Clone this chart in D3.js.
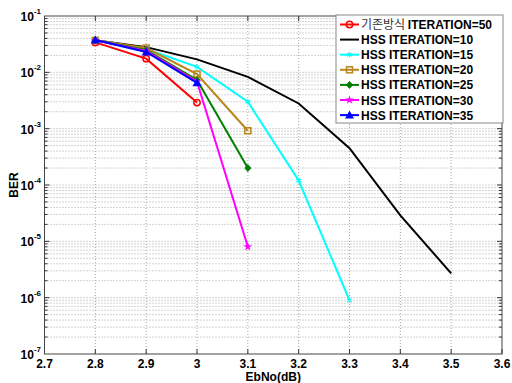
<!DOCTYPE html>
<html><head><meta charset="utf-8">
<script src="https://cdn.jsdelivr.net/npm/d3@7"></script>
<style>body{margin:0;background:#fff}svg{display:block}</style>
</head><body>
<script>
const ebno = [2.8, 2.9, 3.0, 3.1, 3.2, 3.3, 3.4, 3.5];
const berBase50 = [0.034, 0.0175, 0.0029];
const berHss10 = [0.037, 0.028, 0.017, 0.0083, 0.0028, 0.00045, 2.9e-5, 2.7e-6];
const berHss15 = [0.037, 0.026, 0.0125, 0.003, 1.2e-4, 9e-7];
const berHss20 = [0.037, 0.027, 0.0093, 0.00092];
const berHss25 = [0.037, 0.025, 0.0073, 0.0002];
const berHss30 = [0.037, 0.024, 0.0068, 8e-6];
const berHss35 = [0.0375, 0.023, 0.0065];
const xTicks = [2.7, 2.8, 2.9, 3.0, 3.1, 3.2, 3.3, 3.4, 3.5, 3.6];
const xTickLabels = ["2.7","2.8","2.9","3","3.1","3.2","3.3","3.4","3.5","3.6"];
const yExponents = [-1, -2, -3, -4, -5, -6, -7];
const seriesNames = ["기존방식 ITERATION=50","HSS ITERATION=10","HSS ITERATION=15","HSS ITERATION=20","HSS ITERATION=25","HSS ITERATION=30","HSS ITERATION=35"];
const seriesValues = [berBase50, berHss10, berHss15, berHss20, berHss25, berHss30, berHss35];
const seriesColors = ["#ff0000","#000000","#00ffff","#b8861b","#008000","#ff00ff","#0000ff"];
const seriesMarkers = ["circle","none","star","square","diamond","pent","triangle"];

const W = 512, H = 383;
const L = 44.5, R = 502, T = 16, B = 354;
const svg = d3.select("body").append("svg").attr("width", W).attr("height", H)
  .style("font-family", "'Liberation Sans', Arial, sans-serif");
const x = d3.scaleLinear().domain([2.7, 3.6]).range([L, R]);
const y = d3.scaleLog().domain([1e-7, 1e-1]).range([B, T]);

// grid
const g = svg.append("g");
xTicks.slice(1, -1).forEach(v => g.append("line").attr("x1", x(v)).attr("x2", x(v)).attr("y1", T).attr("y2", B)
  .attr("stroke", "#a8a8a8").attr("stroke-width", 1).attr("stroke-dasharray", "1,2"));
for (let e = -7; e < -1; e++) {
  for (let m = 1; m <= 9; m++) {
    const v = m * Math.pow(10, e);
    if (m === 1 && e === -7) continue;
    g.append("line").attr("x1", L).attr("x2", R).attr("y1", y(v)).attr("y2", y(v))
      .attr("stroke", "#a8a8a8").attr("stroke-width", 1).attr("stroke-dasharray", "1,2");
    const len = m === 1 ? 5 : 3;
    g.append("line").attr("x1", L).attr("x2", L + len).attr("y1", y(v)).attr("y2", y(v)).attr("stroke", "#333");
    g.append("line").attr("x1", R).attr("x2", R - len).attr("y1", y(v)).attr("y2", y(v)).attr("stroke", "#333");
  }
}
xTicks.forEach(v => {
  g.append("line").attr("x1", x(v)).attr("x2", x(v)).attr("y1", B).attr("y2", B - 5).attr("stroke", "#333");
  g.append("line").attr("x1", x(v)).attr("x2", x(v)).attr("y1", T).attr("y2", T + 5).attr("stroke", "#333");
});
svg.append("rect").attr("x", L).attr("y", T).attr("width", R - L).attr("height", B - T)
  .attr("fill", "none").attr("stroke", "#444").attr("stroke-width", 1);

xTicks.forEach((v, i) => svg.append("text").attr("x", x(v)).attr("y", 368).attr("text-anchor", "middle")
  .attr("font-size", 12).attr("font-weight", "bold").text(xTickLabels[i]));
yExponents.forEach(e => {
  const t = svg.append("text").attr("x", 41).attr("y", y(Math.pow(10, e)) + 5).attr("text-anchor", "end")
    .attr("font-size", 12).attr("font-weight", "bold");
  t.append("tspan").text("10");
  t.append("tspan").attr("dy", -7).attr("font-size", 8).text(String(e));
});
svg.append("text").attr("transform", "translate(18,185) rotate(-90)").attr("text-anchor", "middle")
  .attr("font-size", 12).attr("font-weight", "bold").text("BER");
svg.append("text").attr("x", x(3.15)).attr("y", 381).attr("text-anchor", "middle")
  .attr("font-size", 12).attr("font-weight", "bold").text("EbNo(dB)");

function marker(sel, type, color, cx, cy) {
  if (type === "circle") sel.append("circle").attr("cx", cx).attr("cy", cy).attr("r", 3.2).attr("fill", "none").attr("stroke", color).attr("stroke-width", 1.5);
  else if (type === "square") sel.append("rect").attr("x", cx - 3).attr("y", cy - 3).attr("width", 6).attr("height", 6).attr("fill", "none").attr("stroke", color).attr("stroke-width", 1.5);
  else if (type === "diamond") sel.append("path").attr("d", `M${cx},${cy-3.5}L${cx+3},${cy}L${cx},${cy+3.5}L${cx-3},${cy}Z`).attr("fill", color).attr("stroke", color);
  else if (type === "triangle") sel.append("path").attr("d", `M${cx},${cy-4.5}L${cx+4.5},${cy+3.5}L${cx-4.5},${cy+3.5}Z`).attr("fill", color);
  else if (type === "pent") sel.append("path").attr("d", d3.symbol(d3.symbolStar, 24)()).attr("transform", `translate(${cx},${cy})`).attr("fill", color);
  else if (type === "star") sel.append("path").attr("d", d3.symbol(d3.symbolAsterisk, 22)()).attr("transform", `translate(${cx},${cy})`).attr("fill", "none").attr("stroke", color).attr("stroke-width", 1.2);
}

const line = d3.line().x(d => x(d[0])).y(d => y(d[1]));
seriesValues.forEach((vals, i) => {
  const pts = vals.map((v, j) => [ebno[j], v]);
  const sg = svg.append("g");
  sg.append("path").attr("d", line(pts)).attr("fill", "none").attr("stroke", seriesColors[i]).attr("stroke-width", 2);
  if (seriesMarkers[i] !== "none") pts.forEach(p => marker(sg, seriesMarkers[i], seriesColors[i], x(p[0]), y(p[1])));
});

const lg = svg.append("g");
lg.append("rect").attr("x", 336).attr("y", 15).attr("width", 167).attr("height", 108).attr("fill", "#fff").attr("stroke", "#888");
seriesNames.forEach((n, i) => {
  const cy = 24.5 + i * 15.1;
  lg.append("line").attr("x1", 340).attr("x2", 359).attr("y1", cy).attr("y2", cy).attr("stroke", seriesColors[i]).attr("stroke-width", 2);
  if (seriesMarkers[i] !== "none") marker(lg, seriesMarkers[i], seriesColors[i], 349.5, cy);
  const t = lg.append("text").attr("x", 361).attr("y", cy + 4.5).attr("font-size", 12).attr("font-weight", "bold");
  if (i === 0) {
    t.append("tspan").attr("font-family", "'Noto Sans CJK KR'").attr("font-weight", "normal").attr("fill", "#333").text("기존방식 ");
    t.append("tspan").text("ITERATION=50");
  } else t.text(n);
});
</script>
</body></html>
